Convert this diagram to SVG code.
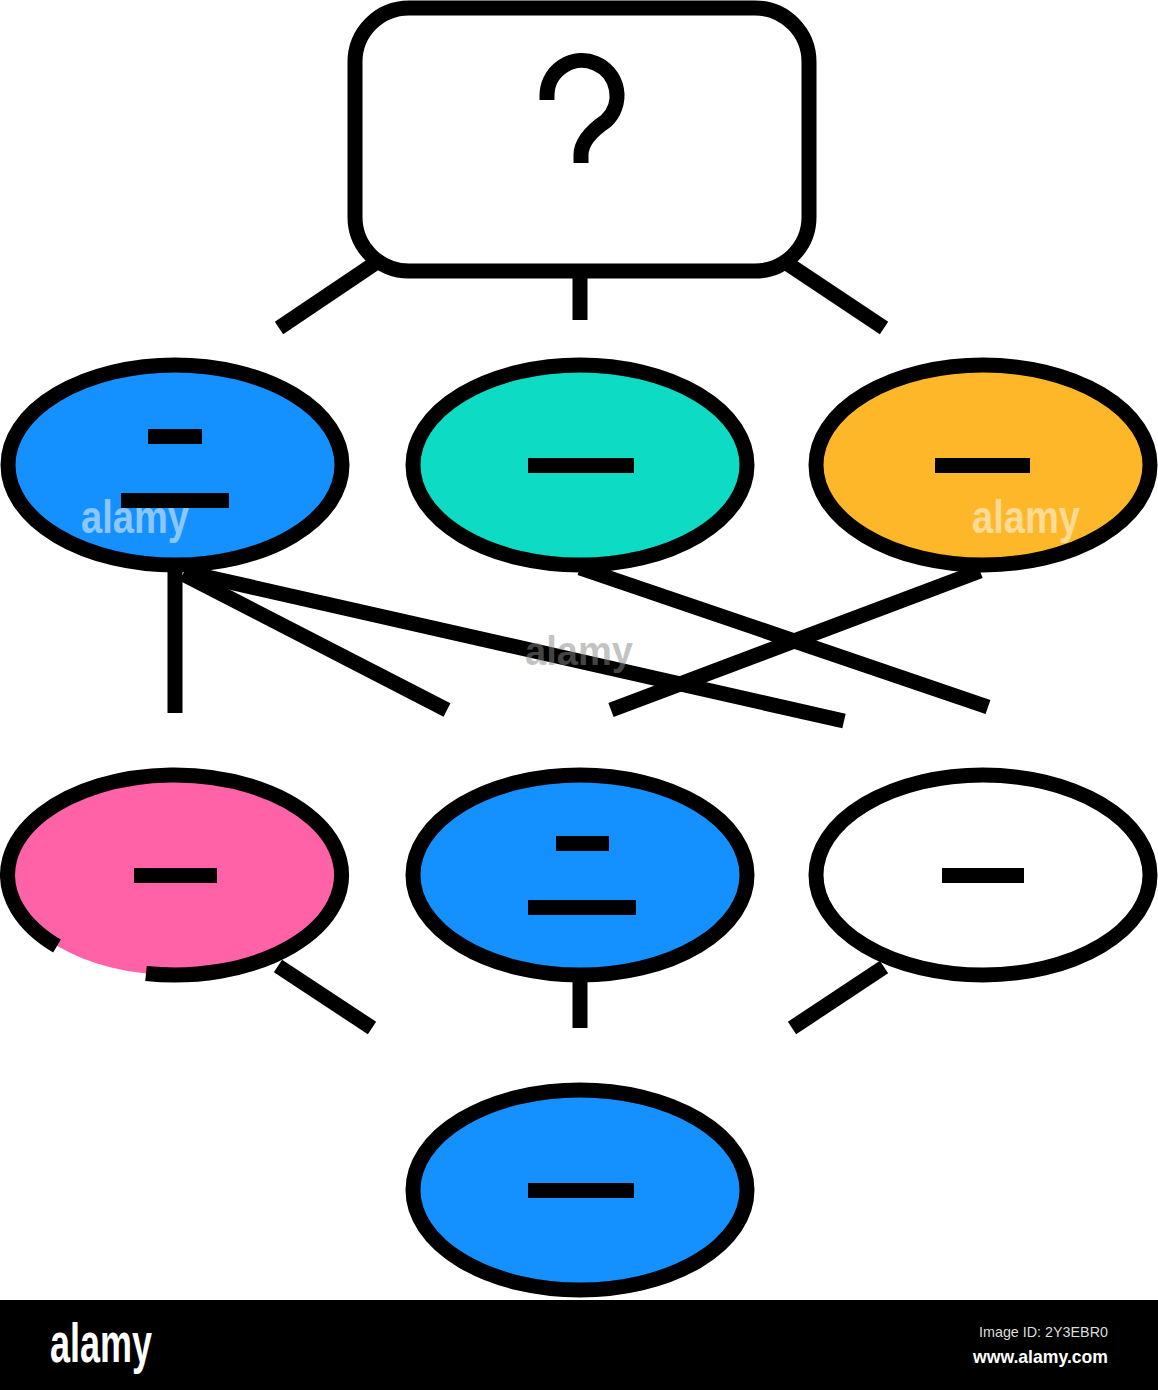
<svg xmlns="http://www.w3.org/2000/svg" width="1158" height="1390" viewBox="0 0 1158 1390">
<style>
.o{stroke:#000;stroke-width:15;fill:none}
.n{stroke:#000;stroke-width:15}
.bar{fill:#000}
.c line{stroke:#000;stroke-width:15}
.wm{font-family:"Liberation Sans",Arial,sans-serif;font-weight:bold;fill:#fff;fill-opacity:0.5}
</style>
<rect width="1158" height="1390" fill="#fff"/>
<g id="connectors" class="c">
<line x1="374" y1="264" x2="279" y2="328"/>
<line x1="580" y1="278" x2="580" y2="320"/>
<line x1="788" y1="264" x2="884" y2="328"/>
<line x1="175" y1="572" x2="175" y2="713"/>
<line x1="183" y1="574" x2="447" y2="710"/>
<line x1="185" y1="572" x2="844" y2="721"/>
<line x1="580" y1="568" x2="988" y2="707"/>
<line x1="980" y1="571" x2="611" y2="710"/>
<line x1="278" y1="966" x2="372" y2="1028"/>
<line x1="580" y1="982" x2="580" y2="1028"/>
<line x1="884" y1="967" x2="792" y2="1028"/>
</g>
<g id="question">
<rect x="355" y="8" width="454" height="263" rx="54" ry="54" class="n" fill="#fff"/>
<path d="M547 100 V96 A35 35 0 1 1 606 121 Q581 138 581 155 V163" class="o"/>
</g>
<g id="n1">
<ellipse cx="175" cy="465" rx="167" ry="100" class="n" fill="#1590ff"/>
<rect x="148" y="429" width="54" height="15" class="bar"/>
<rect x="121" y="493" width="108" height="15" class="bar"/>
</g>
<g id="n2">
<ellipse cx="580" cy="465" rx="167" ry="100" class="n" fill="#0ddbc3"/>
<rect x="528" y="458" width="106" height="15" class="bar"/>
</g>
<g id="n3">
<ellipse cx="983" cy="465" rx="167" ry="100" class="n" fill="#ffb72a"/>
<rect x="935" y="458" width="95" height="15" class="bar"/>
</g>
<g id="n4">
<ellipse cx="175" cy="875" rx="167" ry="100" fill="#ff62a7"/>
<path d="M146 973.5 A167 100 0 1 0 57 946" class="o"/>
<rect x="134" y="868" width="83" height="15" class="bar"/>
</g>
<g id="n5">
<ellipse cx="580" cy="875" rx="167" ry="100" class="n" fill="#1590ff"/>
<rect x="556" y="836" width="53" height="15" class="bar"/>
<rect x="528" y="900" width="108" height="15" class="bar"/>
</g>
<g id="n6">
<ellipse cx="983" cy="875" rx="167" ry="100" class="n" fill="#fff"/>
<rect x="942" y="868" width="82" height="15" class="bar"/>
</g>
<g id="n7">
<ellipse cx="580" cy="1190" rx="167" ry="100" class="n" fill="#1590ff"/>
<rect x="528" y="1183" width="106" height="15" class="bar"/>
</g>
<g id="watermarks">
<text x="81" y="533" class="wm" font-size="46" textLength="108" lengthAdjust="spacingAndGlyphs">alamy</text>
<text x="972" y="533" class="wm" font-size="46" textLength="108" lengthAdjust="spacingAndGlyphs">alamy</text>
<text x="525" y="665" class="wm" font-size="40" textLength="108" lengthAdjust="spacingAndGlyphs" style="fill:#888">alamy</text>
</g>
<g id="footer">
<rect x="0" y="1300" width="1158" height="90" fill="#000"/>
<text x="50" y="1362" font-family="Liberation Sans, Arial, sans-serif" font-weight="bold" font-size="56" fill="#fff" textLength="102" lengthAdjust="spacingAndGlyphs">alamy</text>
<text x="1108" y="1337" text-anchor="end" font-family="Liberation Sans, Arial, sans-serif" font-size="15" fill="#ddd" textLength="129" lengthAdjust="spacingAndGlyphs">Image ID: 2Y3EBR0</text>
<text x="1108" y="1363" text-anchor="end" font-family="Liberation Sans, Arial, sans-serif" font-weight="bold" font-size="19" fill="#fff" textLength="135" lengthAdjust="spacingAndGlyphs">www.alamy.com</text>
</g>
</svg>
